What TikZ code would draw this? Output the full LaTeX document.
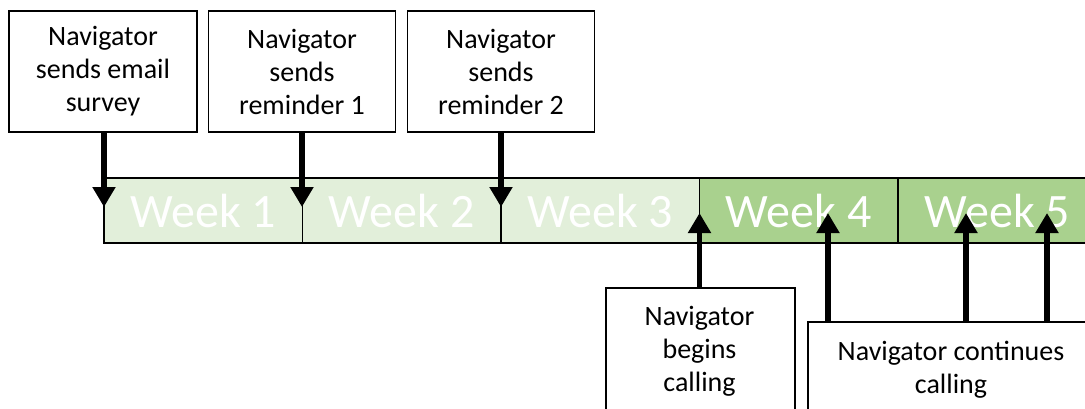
\documentclass[tikz,border=0pt]{standalone}
\usepackage{fontspec}
\setmainfont{Carlito}
\usetikzlibrary{arrows.meta}
\definecolor{wkl}{HTML}{E2EFDA}
\definecolor{wkd}{HTML}{A9D18E}
\tikzset{
  note/.style={draw=black, line width=1.5pt, fill=white, align=center,
    font=\fontsize{28}{33}\selectfont, inner sep=0pt},
  box/.style={draw=black, line width=1.5pt, fill=white, inner sep=0pt},
  txt/.style={align=center, font=\fontsize{28}{33}\selectfont, inner sep=0pt},
  week/.style={draw=black, line width=1.5pt, minimum width=198.5pt,
    minimum height=65pt, font=\fontsize{48}{50}\selectfont, text=white, inner sep=0pt},
  arr/.style={line width=5.5pt, -{Triangle[width=22pt,length=20pt]}}
}
\begin{document}
\begin{tikzpicture}[x=1pt,y=-1pt]
\useasboundingbox (0,0) rectangle (1085,408);
\clip (0,0) rectangle (1085,408);
\fill[white] (0,0) rectangle (1085,408);
% weeks
\node[week, fill=wkl] (w1) at (203.25,210.5) {Week 1};
\node[week, fill=wkl] (w2) at (401.75,210.5) {Week 2};
\node[week, fill=wkl] (w3) at (600.25,210.5) {Week 3};
\node[week, fill=wkd] (w4) at (798.75,210.5) {Week 4};
\node[week, fill=wkd] (w5) at (997.25,210.5) {Week 5};
% top notes
\node[note, minimum width=188pt, minimum height=121pt] (b1) at (103,71.5) {Navigator\\sends email\\survey};
\node[note, minimum width=187pt, minimum height=121pt] (b2) at (302,71.5) {Navigator\\sends\\reminder 1};
\node[note, minimum width=187pt, minimum height=121pt] (b3) at (501,71.5) {Navigator\\sends\\reminder 2};
% bottom notes
\node[box, anchor=north west, minimum width=189pt, minimum height=150pt] (b4) at (605,287) {};
\node[txt] (t4) at (699.5,351) {Navigator\\begins\\calling};
\node[box, anchor=north west, minimum width=290pt, minimum height=120pt] (b5) at (807,321) {};
\node[txt] (t5) at (951,370) {Navigator continues\\calling};
% arrow tips
\coordinate (d1) at (104,207);
\coordinate (d2) at (302,207);
\coordinate (d3) at (501,207);
\coordinate (u1) at (699.5,213);
\coordinate (u2) at (828,213);
\coordinate (u3) at (966,213);
\coordinate (u4) at (1047,213);
% arrows
\draw[arr] (b1.south -| d1) -- (d1);
\draw[arr] (b2.south -| d2) -- (d2);
\draw[arr] (b3.south -| d3) -- (d3);
\draw[arr] (b4.north -| u1) -- (u1);
\draw[arr] (b5.north -| u2) -- (u2);
\draw[arr] (b5.north -| u3) -- (u3);
\draw[arr] (b5.north -| u4) -- (u4);
\end{tikzpicture}
\end{document}
